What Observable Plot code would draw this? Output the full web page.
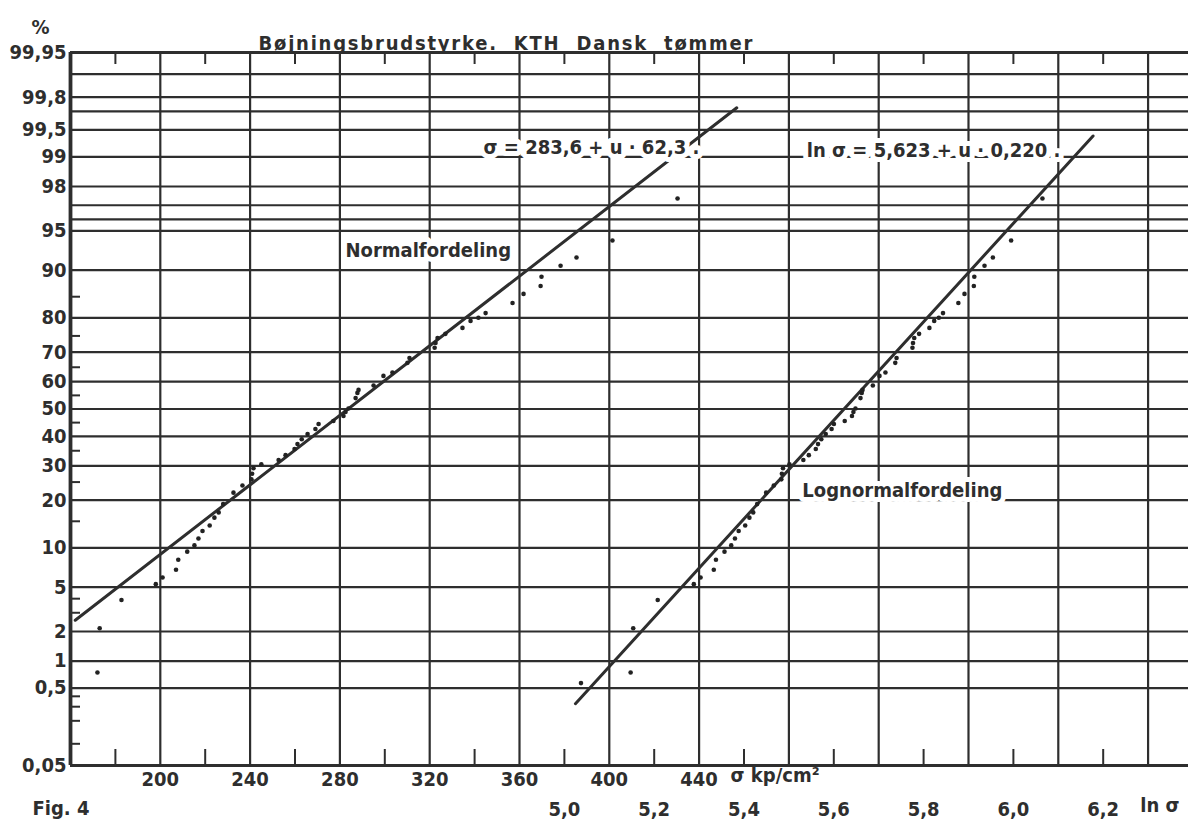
<!DOCTYPE html>
<html>
<head>
<meta charset="utf-8">
<script src="https://cdn.jsdelivr.net/npm/d3@7"></script>
<script src="https://cdn.jsdelivr.net/npm/@observablehq/plot@0.6"></script>
<style>
  html, body { margin: 0; padding: 0; background: #fff; }
  svg text { font-stretch: condensed; }
</style>
</head>
<body>
<div id="chart"></div>
<script>
// ---------- data ----------
// sample: breaking strength sigma (kp/cm2) and cumulative frequency (%)
const sigmaValues = [154,172,173,182.7,198,201,207,208,212,215.2,217,218.8,222,224.1,226,228,232.6,236.6,240.6,240.9,241.5,245,252.7,255.8,259.8,261.1,263,265.6,269.1,270.5,277.1,281.6,282.5,283.8,287,287.8,288.3,295,299.4,303.4,310.1,311,322.2,322.6,323.5,327,334.6,338.2,341.7,344.9,356.9,361.8,369.4,369.8,378.3,385.4,401.4,430.4];
const pctValues   = [0.57,0.75,2.15,3.9,5.3,6.0,6.9,8.2,9.4,10.4,11.6,13.0,14.1,15.8,17.0,19.0,22.0,24.0,25.8,27.5,29.2,30.5,31.9,33.5,35.6,37.3,39.0,40.9,42.7,44.5,45.6,47.4,48.9,50.2,54,55.9,57,58.6,62,63.2,66.5,68.1,71.4,72.9,74.4,75.6,77.3,79.2,80.0,81.2,83.6,85.6,87.2,88.9,90.7,91.9,94,97.4];

// fitted lines (from the equations in the chart) and their drawn extent in u
const normalFit    = {mean: 283.6, sd: 62.3, uFrom: -1.95, uTo: 2.78};
const lognormalFit = {mean: 5.623, sd: 0.220, uFrom: -2.72, uTo: 2.52};

// probability axis
const yLabelP = [99.95, 99.8, 99.5, 99, 98, 95, 90, 80, 70, 60, 50, 40, 30, 20, 10, 5, 2, 1, 0.5, 0.05];
const yGridP  = [99.9, 99.8, 99.7, 99.5, 99, 98, 97, 96, 95, 90, 80, 70, 60, 50, 40, 30, 20, 10, 5, 2, 1, 0.5];
const yMinorP = [85, 75, 65, 55, 45, 35, 25, 15, 4, 3, 0.4, 0.3, 0.2, 0.1];
const yFrameP = [99.95, 0.05];

// sigma axis
const sigmaDomain = [160, 658];
const sigmaGrid   = [200, 240, 280, 320, 360, 400, 440, 480, 520, 560, 600, 640];
const sigmaLabels = [200, 240, 280, 320, 360, 400, 440];
const sigmaMinor  = [180, 220, 260, 300, 340, 380, 420, 460, 500, 540, 580, 620];

// ln sigma axis (shares the sheet: ln 5,0 sits at sigma 380, 0,2 per 40)
const lnLabels = [5.0, 5.2, 5.4, 5.6, 5.8, 6.0, 6.2];
const lnRef = {ln: 5.0, sigma: 380, lnPerSigma: 0.2 / 40};

// texts
const titleText = "Bøjningsbrudstyrke.\u00a0\u00a0KTH\u00a0\u00a0Dansk\u00a0\u00a0tømmer";
const normalLabels = [
  {sigma: 344, p: 99.2, text: "σ = 283,6 + u · 62,3 ."},
  {sigma: 282.5, p: 92.8, text: "Normalfordeling"}
];
const lognormalLabels = [
  {ln: 5.54, p: 99.14, text: "ln σ = 5,623 + u · 0,220 ."},
  {ln: 5.53, p: 22.7, text: "Lognormalfordeling"}
];

// ---------- helpers ----------
function probit(p) {
  const a = [-3.969683028665376e+01, 2.209460984245205e+02, -2.759285104469687e+02, 1.383577518672690e+02, -3.066479806614716e+01, 2.506628277459239e+00];
  const b = [-5.447609879822406e+01, 1.615858368580409e+02, -1.556989798598866e+02, 6.680131188771972e+01, -1.328068155288572e+01];
  const c = [-7.784894002430293e-03, -3.223964580411365e-01, -2.400758277161838e+00, -2.549671010229528e+00, 4.374664141464968e+00, 2.938163982698783e+00];
  const d = [7.784695709041462e-03, 3.224671290700398e-01, 2.445134137142996e+00, 3.754408661907416e+00];
  const pl = 0.02425, ph = 1 - pl;
  if (p < pl) {
    const q = Math.sqrt(-2 * Math.log(p));
    return (((((c[0]*q+c[1])*q+c[2])*q+c[3])*q+c[4])*q+c[5]) / ((((d[0]*q+d[1])*q+d[2])*q+d[3])*q+1);
  }
  if (p <= ph) {
    const q = p - 0.5, r = q * q;
    return (((((a[0]*r+a[1])*r+a[2])*r+a[3])*r+a[4])*r+a[5])*q / (((((b[0]*r+b[1])*r+b[2])*r+b[3])*r+b[4])*r+1);
  }
  const q = Math.sqrt(-2 * Math.log(1 - p));
  return -(((((c[0]*q+c[1])*q+c[2])*q+c[3])*q+c[4])*q+c[5]) / ((((d[0]*q+d[1])*q+d[2])*q+d[3])*q+1);
}
const zOf = (pct) => probit(pct / 100);
const lnToX = (ln) => lnRef.sigma + (ln - lnRef.ln) / lnRef.lnPerSigma;
const xToLn = (x) => lnRef.ln + (x - lnRef.sigma) * lnRef.lnPerSigma;
const comma = (s) => String(s).replace(".", ",");

const sample = sigmaValues.map((s, i) => ({sigma: s, ln: Math.log(s), p: pctValues[i]}));
const normalLine = [normalFit.uFrom, normalFit.uTo].map(u => ({x: normalFit.mean + u * normalFit.sd, u}));
const lognormalLine = [lognormalFit.uFrom, lognormalFit.uTo].map(u => ({x: lnToX(lognormalFit.mean + u * lognormalFit.sd), u}));

const ink = "#2e2e2e";
const W = 1188, H = 825, mT = 52, mB = 60, mL = 70, mR = 0;
const frameW = W - mL - mR, frameH = H - mT - mB;

const chart = Plot.plot({
  width: W,
  height: H,
  marginTop: mT,
  marginBottom: mB,
  marginLeft: mL,
  marginRight: mR,
  style: {
    fontFamily: "'DejaVu Sans Condensed', 'DejaVu Sans', sans-serif",
    fontSize: "20px",
    fontWeight: "bold",
    color: ink,
    background: "#fff",
    overflow: "visible"
  },
  x: {type: "linear", domain: sigmaDomain, axis: null},
  y: {type: "linear", domain: [zOf(0.05), zOf(99.95)], axis: null},
  marks: [
    // horizontal grid
    Plot.ruleY(yGridP, {y: zOf, stroke: ink, strokeWidth: 2.2}),
    // vertical grid
    Plot.ruleX(sigmaGrid, {stroke: ink, strokeWidth: 2.2}),
    // minor ticks bottom / top / left
    Plot.ruleX(sigmaMinor, {stroke: ink, strokeWidth: 2, insetTop: frameH - 16}),
    Plot.ruleX(sigmaMinor, {stroke: ink, strokeWidth: 2, insetBottom: frameH - 12}),
    Plot.ruleY(yMinorP, {y: zOf, stroke: ink, strokeWidth: 2, insetRight: frameW - 10}),
    // frame
    Plot.ruleY(yFrameP, {y: zOf, stroke: ink, strokeWidth: 3.2}),
    Plot.ruleX([sigmaDomain[0]], {stroke: ink, strokeWidth: 3.8}),
    // axes
    Plot.axisY(yLabelP.map(zOf), {
      tickSize: 0, tickPadding: 4, label: null,
      tickFormat: (z, i) => comma(yLabelP[i])
    }),
    Plot.axisX(sigmaLabels, {tickSize: 0, tickPadding: 6, label: null, tickFormat: d => String(d)}),
    Plot.axisX(lnLabels.map(lnToX), {tickSize: 0, tickPadding: 36, label: null, tickFormat: x => comma(xToLn(x).toFixed(1))}),
    // fitted lines
    Plot.line(normalLine, {x: "x", y: "u", stroke: ink, strokeWidth: 3}),
    Plot.line(lognormalLine, {x: "x", y: "u", stroke: ink, strokeWidth: 3}),
    // sample points
    Plot.dot(sample, {filter: d => d.sigma >= sigmaDomain[0], x: "sigma", y: d => zOf(d.p), r: 2.3, fill: "#222", stroke: null}),
    Plot.dot(sample, {x: d => lnToX(d.ln), y: d => zOf(d.p), r: 2.3, fill: "#222", stroke: null}),
    // labels with white box
    Plot.text(normalLabels, {x: "sigma", y: d => zOf(d.p), text: "text", textAnchor: "start", fill: ink, stroke: "#fff", strokeWidth: 10, paintOrder: "stroke"}),
    Plot.text(lognormalLabels, {x: d => lnToX(d.ln), y: d => zOf(d.p), text: "text", textAnchor: "start", fill: ink, stroke: "#fff", strokeWidth: 10, paintOrder: "stroke"}),
    // margin texts
    Plot.text([titleText], {frameAnchor: "top-left", dx: 188, dy: -17, textAnchor: "start", fill: ink}),
    Plot.text(["%"], {frameAnchor: "top-left", dx: -30, dy: -33, textAnchor: "middle", fill: ink}),
    Plot.text(["σ kp/cm²"], {x: [454], frameAnchor: "bottom", dy: 16, textAnchor: "start", fill: ink}),
    Plot.text(["ln σ"], {x: [636.5], frameAnchor: "bottom", dy: 46, textAnchor: "start", fill: ink}),
    Plot.text(["Fig. 4"], {frameAnchor: "bottom-left", dx: -38, dy: 49, textAnchor: "start", fill: ink})
  ]
});

document.getElementById("chart").appendChild(chart);

// stretch the title to the width it has in the figure
d3.select(chart).selectAll("text")
  .filter(function() { return this.textContent === titleText; })
  .attr("textLength", 494).attr("lengthAdjust", "spacing");
</script>
</body>
</html>
